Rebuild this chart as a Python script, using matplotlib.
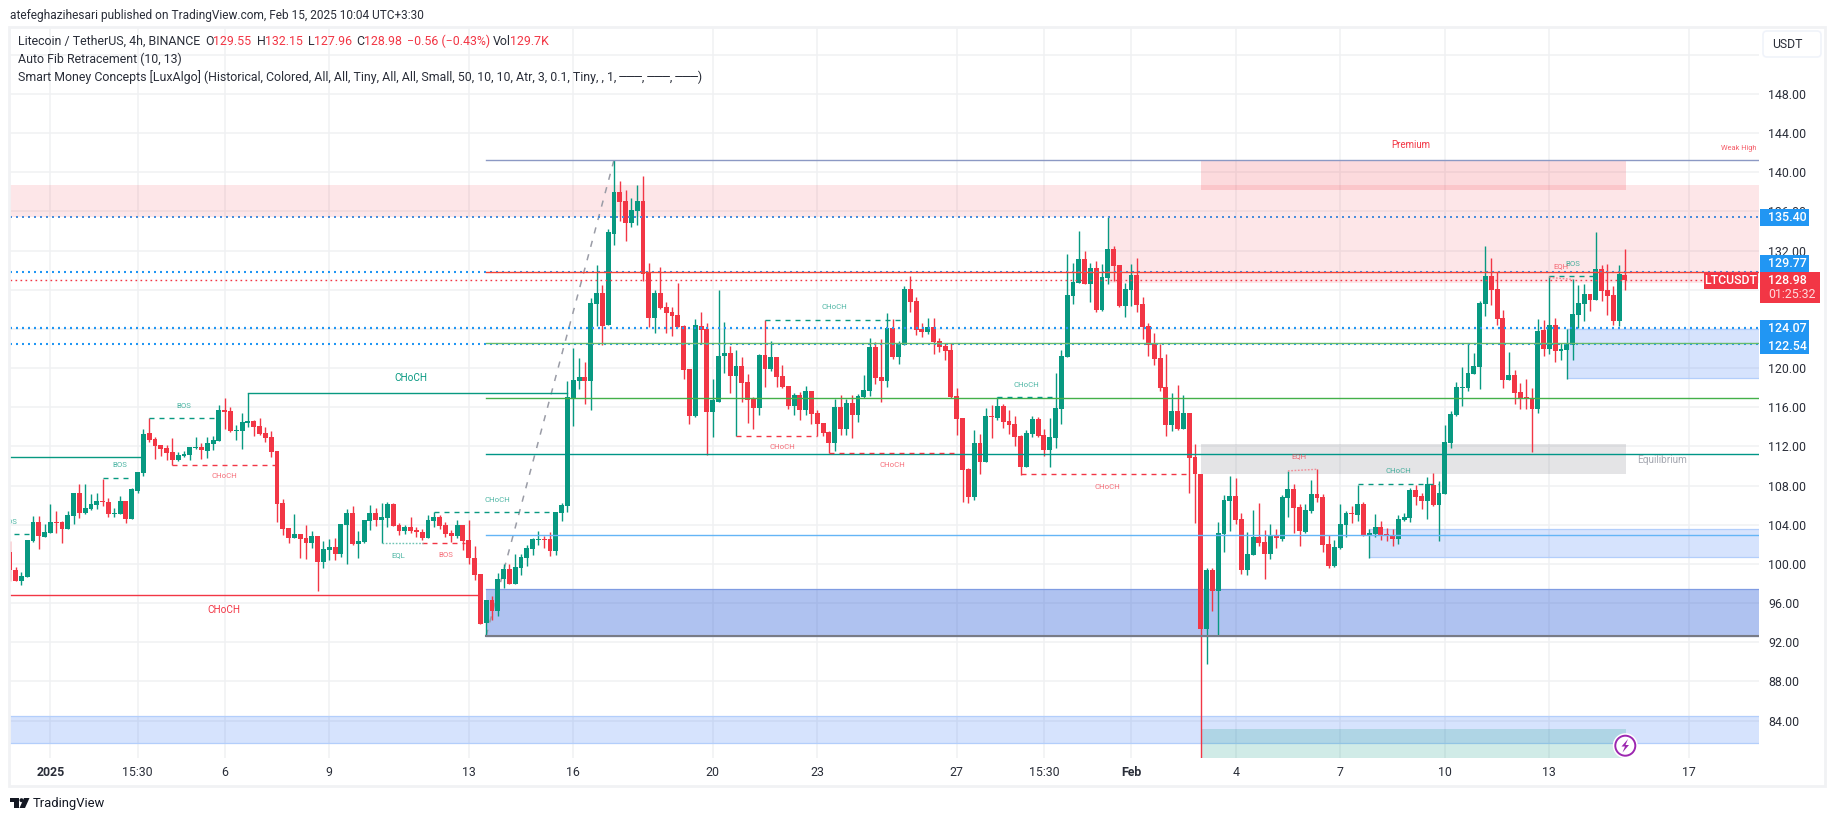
import matplotlib
matplotlib.use("Agg")
import matplotlib.pyplot as plt
from matplotlib.patches import Rectangle, FancyBboxPatch, Circle, Polygon

plt.rcParams['font.family'] = ['Roboto', 'DejaVu Sans']
plt.rcParams['lines.scale_dashes'] = False

opens = [
 101.2,99.4,98.3,98.7,102.3,104.3,102.7,103.2,104.3,104.3,
 103.6,104.9,107.2,105.2,105.6,106.0,106.4,106.3,105.1,105.1,
 106.4,104.6,107.4,109.3,113.4,112.75,112.15,111.85,111.4,110.6,
 111.0,111.1,111.85,111.95,111.55,112.25,112.55,115.7,115.6,113.6,
 113.6,114.4,114.6,114.1,113.4,112.95,111.5,106.2,103.65,102.6,
 103.1,102.6,102.1,102.8,100.15,101.4,101.7,101.0,103.95,105.2,
 102.0,102.2,104.35,105.2,104.45,104.65,106.1,103.95,103.35,103.75,
 103.45,103.25,102.6,104.35,104.75,103.95,103.15,102.85,103.95,102.4,
 100.65,98.95,94.0,96.3,95.2,98.45,99.5,97.95,99.6,100.6,
 101.5,102.45,102.55,102.55,101.35,105.2,105.9,116.95,118.7,119.1,
 118.7,126.55,127.65,124.4,133.7,138.0,137.05,134.8,136.05,137.05,
 129.8,125.1,127.65,126.25,125.75,125.4,124.3,119.9,115.1,124.3,
 124.0,115.5,116.55,121.25,121.55,119.2,120.2,118.6,116.85,115.9,
 121.35,119.9,121.15,119.2,118.2,116.15,117.25,115.7,117.65,115.4,
 114.4,113.5,112.35,116.0,113.8,116.45,115.2,117.05,117.65,122.15,
 119.1,118.7,124.1,121.15,122.35,128.1,126.85,124.0,123.7,124.2,
 122.75,122.25,121.85,117.15,114.9,109.7,106.8,112.35,110.4,115.1,
 114.9,116.15,114.6,114.3,113.05,109.9,113.25,114.8,113.15,111.6,
 112.85,115.8,121.15,127.35,128.7,131.15,128.6,130.25,125.95,129.2,
 132.15,130.55,126.35,127.95,129.5,126.55,124.3,122.45,121.0,118.05,
 114.2,115.6,113.8,115.4,110.9,109.15,93.35,99.4,97.25,103.05,
 106.45,106.95,104.6,99.4,100.9,102.75,102.25,101.0,102.95,102.55,
 106.75,107.65,105.8,103.25,105.4,107.15,106.85,102.05,99.8,101.65,
 103.95,105.2,105.0,106.1,102.85,103.05,103.75,103.05,102.95,102.55,
 104.5,104.7,107.55,106.95,106.45,108.05,106.0,107.15,112.35,115.25,
 118.0,118.0,119.4,120.15,126.55,129.4,128.1,125.15,118.8,119.3,
 117.55,117.05,116.95,115.85,123.9,121.95,124.4,121.75,121.85,122.4,
 125.45,126.55,127.6,127.0,130.15,128.0,127.5,124.85,129.55]
closes = [
 99.4,98.3,98.8,102.4,104.3,102.8,103.3,104.3,104.2,103.6,
 105.0,107.2,105.2,105.7,106.1,106.4,106.3,105.1,105.2,106.4,
 104.6,107.6,109.4,113.3,112.7,112.05,111.75,111.3,110.6,111.1,
 111.2,111.95,111.95,111.65,112.35,112.65,115.7,115.5,113.6,113.7,
 114.5,114.6,114.0,113.3,112.85,111.4,106.1,103.55,102.6,103.1,
 102.5,102.1,102.8,100.15,101.5,101.7,101.0,104.05,105.2,102.0,
 102.3,104.45,105.2,104.45,104.75,106.1,103.85,103.35,103.75,103.35,
 103.25,102.6,104.45,104.75,103.85,103.05,102.85,103.95,102.3,100.55,
 98.85,93.9,96.3,95.2,98.45,99.5,97.95,99.7,100.7,101.6,
 102.55,102.55,102.45,101.35,105.3,106.0,117.05,118.8,119.1,118.7,
 126.65,127.65,124.3,133.9,138.0,137.0,134.8,136.15,137.05,129.6,
 125.1,127.65,126.15,125.65,125.35,124.2,119.8,115.1,124.4,123.9,
 115.5,116.75,121.25,121.55,119.2,120.2,118.5,116.75,115.9,121.35,
 119.9,121.15,119.1,118.05,116.15,117.25,115.7,117.65,115.3,114.3,
 113.4,112.35,116.0,113.8,116.45,115.2,117.15,117.8,122.15,119.0,
 118.7,124.1,121.15,122.45,128.1,126.75,123.9,123.7,124.2,122.65,
 122.15,121.75,117.05,114.8,109.6,106.8,112.35,110.4,115.1,115.0,
 116.15,114.5,114.2,113.0,109.9,113.35,114.8,113.05,111.6,112.95,
 115.9,121.25,127.45,128.8,131.15,128.6,130.25,125.95,129.3,132.15,
 130.45,126.35,128.05,129.5,126.45,124.2,122.35,120.9,118.0,114.2,
 115.6,113.8,115.4,110.8,109.15,93.35,99.4,97.25,103.15,106.55,
 106.95,104.5,99.4,101.0,102.75,102.15,101.0,102.95,102.65,106.85,
 107.65,105.7,103.35,105.5,107.15,106.75,101.95,99.8,101.75,104.05,
 105.2,105.1,106.1,102.85,103.15,103.75,102.95,102.85,102.55,104.55,
 104.8,107.55,106.85,106.45,108.15,106.0,107.25,112.45,115.35,118.1,
 118.1,119.5,120.25,126.65,129.4,128.0,125.05,118.8,119.3,117.5,
 116.95,116.95,115.85,123.8,121.95,124.4,121.75,121.95,122.5,125.55,
 126.65,127.6,127.0,130.15,127.9,127.4,124.85,129.6,128.98]
highs = [
 102.3,99.7,99.2,102.4,104.9,104.9,104.1,106.1,105.4,104.4,
 105.4,107.2,108.15,108.15,107.1,107.2,108.7,106.7,105.7,106.9,
 106.4,107.7,109.4,113.8,114.9,113.0,112.15,112.15,112.85,111.4,
 111.5,111.95,113.0,112.35,113.0,113.05,116.25,116.95,116.05,114.2,
 115.4,117.45,114.7,114.9,114.0,113.6,111.5,106.6,103.65,105.1,
 103.1,103.95,103.35,102.8,102.3,102.5,102.6,104.05,105.6,105.9,
 103.35,104.45,106.0,105.7,106.2,106.3,106.2,104.15,103.95,104.75,
 103.75,103.55,104.95,105.25,104.95,104.25,103.45,104.45,103.95,104.45,
 101.8,99.0,96.3,96.7,99.05,100.0,100.0,101.0,101.0,101.95,
 102.65,103.35,102.85,103.25,105.3,106.2,118.7,122.05,121.05,120.6,
 127.15,130.55,128.5,134.2,141.25,139.1,138.2,137.4,138.7,139.6,
 130.75,127.95,130.3,126.75,126.25,128.7,124.4,119.9,125.0,125.75,
 124.6,118.9,128.0,124.7,122.25,121.85,121.15,119.4,117.05,121.45,
 124.9,122.75,121.15,120.3,118.2,117.45,117.55,118.2,117.65,115.7,
 114.4,113.6,116.85,117.25,116.85,117.25,117.35,119.3,123.1,122.7,
 123.0,125.65,125.0,122.75,128.4,129.4,127.25,124.6,125.1,125.1,
 123.05,122.55,122.55,117.95,114.9,109.8,113.7,113.25,115.9,116.25,
 117.05,116.35,115.7,115.1,113.15,113.65,115.1,115.0,113.75,114.9,
 119.5,121.85,131.65,130.75,134.0,131.95,130.75,130.95,130.6,135.4,
 132.45,130.55,128.7,130.6,131.25,127.25,124.6,123.6,122.45,121.45,
 117.45,118.25,117.25,115.4,112.25,109.15,99.6,99.6,104.3,107.05,
 108.95,108.75,105.2,103.25,105.5,106.2,103.45,104.05,103.55,107.05,
 109.5,108.15,106.1,106.1,108.55,109.65,107.15,102.95,102.45,106.1,
 105.4,105.9,108.1,106.3,103.55,105.1,104.4,103.65,103.55,105.0,
 105.2,107.75,108.05,107.25,108.9,109.3,108.5,114.2,115.65,118.6,
 120.15,122.6,121.55,126.9,132.5,131.25,129.85,125.95,121.65,119.8,
 118.5,118.9,118.0,125.0,124.9,129.45,125.15,122.6,124.0,129.1,
 128.5,128.6,127.6,133.9,130.55,130.65,128.4,130.55,132.15]
lows = [
 98.3,98.2,97.8,98.7,102.2,101.5,102.7,103.2,103.2,102.1,
 103.6,104.1,104.7,105.1,105.5,105.6,105.9,104.8,104.8,105.1,
 104.2,104.6,107.2,109.0,112.45,110.7,111.0,110.6,110.05,110.5,
 110.9,110.6,111.75,110.7,110.8,111.65,112.55,113.8,113.5,112.65,
 111.75,114.0,113.05,113.15,112.45,110.9,104.25,102.95,102.1,102.6,
 100.55,100.45,101.6,97.2,99.55,100.35,100.35,100.7,100.0,101.9,
 100.55,102.1,103.45,103.85,102.1,103.75,103.85,102.95,103.05,103.15,
 102.75,102.4,102.6,103.75,103.55,102.75,102.2,102.6,101.4,100.0,
 98.4,93.9,92.65,94.3,94.7,97.55,97.95,97.95,98.85,99.8,
 100.9,101.95,101.6,100.8,100.9,104.4,105.3,114.1,117.9,116.35,
 115.7,124.3,122.35,124.4,132.6,135.0,133.0,134.4,134.6,128.9,
 124.2,123.6,126.0,123.6,123.3,124.2,118.9,114.3,115.0,122.5,
 111.1,113.0,116.55,119.5,117.45,113.05,116.55,114.4,113.8,115.2,
 118.05,119.7,118.05,118.0,115.8,115.2,114.7,115.2,114.3,113.05,
 113.05,111.3,111.55,113.2,113.2,112.85,114.5,116.95,117.15,118.4,
 116.55,118.05,120.95,120.4,122.35,125.75,123.4,123.2,123.5,121.45,
 121.65,120.8,116.95,113.15,106.3,106.2,106.5,109.15,110.4,112.85,
 114.7,113.9,113.25,112.05,109.05,109.9,112.95,112.95,111.0,109.9,
 111.85,114.3,121.15,126.55,128.7,128.6,126.75,125.75,125.85,128.6,
 128.9,126.25,125.2,126.35,125.75,123.0,121.25,120.3,117.65,113.05,
 113.6,113.7,113.8,107.25,104.15,80.2,89.8,95.2,92.75,101.2,
 103.35,104.1,99.0,98.9,100.9,101.85,98.45,100.5,101.6,102.35,
 104.8,103.15,101.85,103.15,105.2,106.35,101.2,99.6,99.7,101.5,
 102.75,104.2,104.4,102.85,100.6,102.75,102.45,102.35,101.85,102.05,
 104.4,104.3,106.0,105.6,104.6,105.9,102.35,107.15,111.85,115.15,
 116.15,117.7,119.4,117.9,125.35,126.45,124.45,118.0,118.8,116.35,
 115.85,115.85,111.45,115.45,121.25,121.45,120.65,120.85,118.9,120.85,
 124.1,124.85,125.85,127.0,126.85,125.45,124.45,124.3,127.96]

x_tick_bars = [7, 22, 37, 55, 79, 97, 121, 139, 163, 178, 193, 211, 229, 247, 265, 289]
x_tick_labels = ['2025', '15:30', '6', '9', '13', '16', '20', '23', '27', '15:30', 'Feb', '4', '7', '10', '13', '17']
y_grid = [84, 88, 92, 96, 100, 104, 108, 112, 116, 120, 124, 128, 132, 136, 140, 144, 148, 152]
y_ticks = [84, 88, 92, 96, 100, 104, 108, 112, 116, 120, 132, 136, 140, 144, 148]

fib_levels = [141.23, 129.77, 122.54, 116.9, 111.2, 103.0, 92.65]
fib_colors = ['#8c99c4', '#f44336', '#66bb6a', '#43b049', '#009688', '#64b5f6', '#787b86']
fib_widths = [1.0, 1.0, 1.0, 1.0, 1.0, 1.0, 1.5]
fib_start = 82

dotted_levels = [135.40, 129.82, 124.07, 122.49]
dotted_colors = ['#4a8ddc', '#2196f3', '#2196f3', '#2196f3']
dotted_widths = [1.44, 1.5, 1.6, 1.5]
last_price = 128.98

light_blue_zones = [(0, None, 81.74, 84.43), (234, None, 100.67, 103.53), (268, None, 118.94, 124.0)]
strong_blue_zone = (82, None, 92.65, 97.4)
red_zones = [(0, None, 135.47, 138.7), (189, None, 128.66, 135.4)]
premium_zone = (205, 278.2, 138.2, 141.23)
equilibrium_zone = (205, 278.2, 109.2, 112.25)
discount_zone = (205, 278.2, 80.17, 83.14)

solid_structs = [(0, 22.6, 110.88, '#089981'), (41, 96, 117.43, '#089981'), (0, 81, 96.85, '#f23645')]
dashed_up = [(0.7, 3.5, 103.1), (16.1, 21.3, 108.75), (24, 35.9, 114.87), (73.1, 93, 105.25),
             (130, 153.8, 124.88), (170, 180.2, 117.0), (232.1, 246, 108.13), (265, 273, 129.4)]
dashed_dn = [(28, 46, 110.05), (71, 78.4, 102.15), (125, 139, 113.03), (141, 162.7, 111.28), (174.1, 203.2, 109.15)]
eql = [(64, 71.2, 102.1, 102.1)]
eqh = [(220, 225, 109.5, 109.66), (265, 269.1, 129.26, 129.05)]

up_labels = [(0.1, 104.3, 'BOS'), (18.9, 110.06, 'BOS'), (29.9, 116.1, 'BOS'), (66.9, 100.9, 'EQL'),
             (83.9, 106.56, 'CHoCH'), (141.9, 126.2, 'CHoCH'), (175, 118.24, 'CHoCH'),
             (239, 109.46, 'CHoCH'), (269, 130.62, 'BOS')]
dn_labels = [(36.9, 108.95, 'CHoCH'), (75, 100.9, 'BOS'), (133, 111.9, 'CHoCH'), (151.9, 110.07, 'CHoCH'),
             (188.9, 107.9, 'CHoCH'), (221.9, 110.96, 'EQH'), (267, 130.4, 'EQH')]

UP, DN = '#089981', '#f23645'
W, H = 1835, 821
fig = plt.figure(figsize=(W / 100, H / 100), dpi=100, facecolor='white')
ax = fig.add_axes([10 / W, (H - 758) / H, (1759 - 10) / W, (758 - 27) / H])
ax.set_xlim(0.05, 301.08)
ax.set_ylim(80.17, 154.84)
for s in ax.spines.values():
    s.set_visible(False)

GRID = '#f0f1f3'
for v in y_grid:
    ax.axhline(v, color=GRID, lw=1.1, zorder=0.5)
for b in x_tick_bars:
    ax.axvline(b, color=GRID, lw=1.1, zorder=0.5)

RIGHT = 301.08
def zone(z, fc, ec=None, alpha=1.0, lw=0.9, zo=1):
    x0, x1, lo, hi = z
    x1 = RIGHT if x1 is None else x1
    ax.add_patch(Rectangle((x0, lo), x1 - x0, hi - lo, facecolor=fc, edgecolor='none', alpha=alpha, zorder=zo))
    if ec:
        ax.plot([x0, x1], [hi, hi], color=ec, lw=lw, zorder=zo + 0.1)
        ax.plot([x0, x1], [lo, lo], color=ec, lw=lw, zorder=zo + 0.1)

for z in red_zones:
    zone(z, '#f23645', alpha=0.12)
zone(premium_zone, '#f23645', alpha=0.18)
zone(equilibrium_zone, '#787b86', alpha=0.2)
for z in light_blue_zones:
    zone(z, '#2a6ef5', ec='#b3cefb', alpha=0.19)
zone(discount_zone, '#089981', alpha=0.19, zo=1.3)
zone(strong_blue_zone, '#2f5fd8', ec='#7f9be2', alpha=0.38)

for p, c, w in zip(fib_levels, fib_colors, fib_widths):
    ax.plot([fib_start, RIGHT], [p, p], color=c, lw=w, zorder=4)
ax.plot([fib_start, 104], [fib_levels[-1], fib_levels[0]], color='#9a9ca6', lw=1.1,
        linestyle=(0, (4.5, 5.5)), zorder=2.5)

for p, c, w in zip(dotted_levels, dotted_colors, dotted_widths):
    ax.plot([0, RIGHT], [p, p], color=c, lw=w, linestyle=(0, (1.44, 2.88)),
            dash_capstyle='butt', zorder=3.5)
ax.plot([0, RIGHT], [last_price, last_price], color=DN, lw=1.0, linestyle=(0, (1.2, 2.4)),
        dash_capstyle='butt', zorder=3.5)

for i, (o, h, l, c) in enumerate(zip(opens, highs, lows, closes)):
    col = UP if c >= o else DN
    ax.plot([i, i], [l, h], color=col, lw=1.0, solid_capstyle='butt', zorder=3)
    ax.bar(i, max(abs(c - o), 0.08), bottom=min(o, c), width=0.84, color=col, linewidth=0, zorder=3.1)

for x0, x1, p, c in solid_structs:
    ax.plot([x0, x1], [p, p], color=c, lw=1.0, zorder=4)
for x0, x1, p in dashed_up:
    ax.plot([x0, x1], [p, p], color=UP, lw=1.0, linestyle=(0, (3.6, 3.6)), zorder=4)
for x0, x1, p in dashed_dn:
    ax.plot([x0, x1], [p, p], color=DN, lw=1.0, linestyle=(0, (3.6, 3.6)), zorder=4)
for x0, x1, p0, p1 in eql:
    ax.plot([x0, x1], [p0, p1], color='#6fc4b4', lw=1.0, linestyle=(0, (1.2, 1.2)), zorder=4)
for x0, x1, p0, p1 in eqh:
    ax.plot([x0, x1], [p0, p1], color='#f28c96', lw=1.0, linestyle=(0, (1.2, 1.2)), zorder=4)

for x, p, t in up_labels:
    ax.text(x, p, t, color=UP, alpha=0.72, fontsize=5.6, ha='center', va='center', zorder=5, clip_on=True)
for x, p, t in dn_labels:
    ax.text(x, p, t, color=DN, alpha=0.72, fontsize=5.6, ha='center', va='center', zorder=5, clip_on=True)
ax.text(69, 119.0, 'CHoCH', color=UP, fontsize=7.2, ha='center', va='center', zorder=5)
ax.text(36.9, 95.3, 'CHoCH', color=DN, fontsize=7.2, ha='center', va='center', zorder=5)
ax.text(241.2, 142.8, 'Premium', color=DN, fontsize=7.0, ha='center', va='center', zorder=5)
ax.text(284.4, 110.65, 'Equilibrium', color='#a6a9b2', fontsize=7.2, ha='center', va='center', zorder=5)
ax.text(300.6, 142.45, 'Weak High', color=DN, alpha=0.8, fontsize=5.3, ha='right', va='center', zorder=5)

ax.set_xticks(x_tick_bars)
ax.set_xticklabels(x_tick_labels, fontsize=8.9, color='#2a2e39')
for lab in ax.get_xticklabels():
    if lab.get_text() in ('2025', 'Feb'):
        lab.set_fontweight('bold')
ax.tick_params(axis='x', length=0, pad=5.8)
ax.yaxis.tick_right()
ax.set_yticks(y_ticks)
ax.set_yticklabels([f'{v:.2f}' for v in y_ticks], fontsize=8.9, color='#2a2e39')
ax.tick_params(axis='y', length=0, pad=6.6)

ch = fig.add_axes([0, 0, 1, 1], zorder=10, facecolor='none')
ch.set_xlim(0, W)
ch.set_ylim(H, 0)
ch.axis('off')
ch.add_patch(Rectangle((9, 27), 1816, 759, fill=False, ec='#f1f2f4', lw=2.0))

TXT = '#2a2e39'
ch.text(10, 15, 'atefeghazihesari published on TradingView.com, Feb 15, 2025 10:04 UTC+3:30',
        fontsize=8.6, color=TXT, va='center')
pieces = [(18, 'Litecoin / TetherUS, 4h, BINANCE', TXT), (205, 'O', TXT), (213, '129.55', DN), (257, 'H', TXT),
          (265, '132.15', DN), (308, 'L', TXT), (314, '127.96', DN), (356, 'C', TXT), (363.5, '128.98', DN),
          (407, '\u22120.56 (\u22120.43%)', DN), (493, 'Vol', TXT), (510, '129.7K', DN)]
for x, t, c in pieces:
    ch.text(x, 41.7, t, fontsize=8.9, color=c, va='center')
ch.text(18, 59.3, 'Auto Fib Retracement (10, 13)', fontsize=8.9, color=TXT, va='center')
ch.text(18, 76.7, 'Smart Money Concepts [LuxAlgo] (Historical, Colored, All, All, Tiny, All, All, Small, 50, 10, 10, Atr, 3, 0.1, Tiny, , 1, \u2500\u2500\u2500, \u2500\u2500\u2500, \u2500\u2500\u2500)',
        fontsize=8.9, color=TXT, va='center')

ch.add_patch(FancyBboxPatch((1765, 33), 54, 22, boxstyle='round,pad=2,rounding_size=4',
                            fc='white', ec='#f0f3fa', lw=1.2))
ch.text(1772, 44.5, 'USDT', fontsize=8.8, color=TXT, va='center')

BLUE = '#2196f3'
def tag(x0, y0, x1, y1, fc):
    ch.add_patch(Rectangle((x0, y0), x1 - x0, y1 - y0, fc=fc, ec='none', zorder=3))
def tag_text(x, y, t, ha='left'):
    ch.text(x, y, t, fontsize=8.9, fontweight='medium', color='white', ha=ha, va='center', zorder=4)

tag(1760, 209, 1809, 226, BLUE); tag_text(1768, 217.5, '135.40')
tag(1760, 255, 1809, 272, BLUE); tag_text(1768, 263.5, '129.77')
tag(1760, 320, 1809, 354, BLUE); tag_text(1768, 328.5, '124.07'); tag_text(1768, 346, '122.54')
tag(1760, 272, 1820, 303, DN); tag_text(1768, 281, '128.98')
ch.text(1768, 295, '01:25:32', fontsize=8.9, color='#ffd9dc', va='center', zorder=4)
tag(1704, 272, 1758, 289, DN); tag_text(1731, 280.5, 'LTCUSDT', ha='center')

ch.add_patch(Circle((1625.3, 745.7), 12.5, fc='white', ec='none', zorder=5))
ch.add_patch(Circle((1625.3, 745.7), 10, fc='white', ec='#9c27b0', lw=1.4, zorder=6))
ch.add_patch(Polygon([(1628, 739), (1621.5, 746.5), (1625, 746.5), (1622.5, 752.5), (1629, 745), (1625.5, 745)],
                     fc='#9c27b0', ec='none', zorder=7))

LOGO = '#131722'
ch.add_patch(Polygon([(10, 798), (19, 798), (19, 808), (14, 808), (14, 802.5), (10, 802.5)], fc=LOGO, ec='none'))
ch.add_patch(Circle((21.5, 800.2), 2.0, fc=LOGO, ec='none'))
ch.add_patch(Polygon([(24, 798), (29.5, 798), (25, 808), (19.5, 808)], fc=LOGO, ec='none'))
ch.text(33, 803, 'TradingView', fontsize=9.4, color=LOGO, va='center')

fig.savefig('out.png', dpi=100, facecolor='white')
